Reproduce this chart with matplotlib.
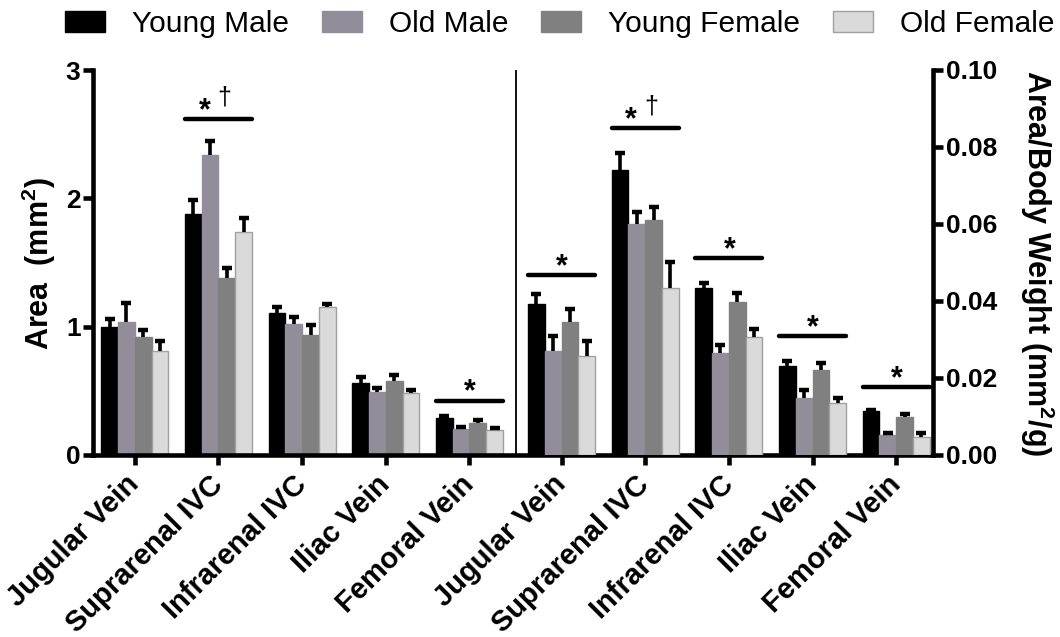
import numpy as np
import matplotlib
matplotlib.use("Agg")
import matplotlib.pyplot as plt

plt.rcParams['font.family'] = ['Liberation Sans', 'DejaVu Sans']
plt.rcParams['mathtext.fontset'] = 'custom'
plt.rcParams['mathtext.rm'] = 'Liberation Sans'
plt.rcParams['mathtext.bf'] = 'Liberation Sans:bold'

# ---------------- data ----------------
categories = ["Jugular Vein", "Suprarenal IVC", "Infrarenal IVC", "Iliac Vein", "Femoral Vein"]
series = ["Young Male", "Old Male", "Young Female", "Old Female"]

# Area (mm^2) -- left axis
area_ym = [1.00, 1.88, 1.11, 0.56, 0.29]
area_om = [1.04, 2.34, 1.02, 0.49, 0.20]
area_yf = [0.92, 1.38, 0.935, 0.58, 0.25]
area_of = [0.81, 1.74, 1.15, 0.48, 0.195]
area_ym_err = [0.06, 0.11, 0.04, 0.045, 0.012]
area_om_err = [0.145, 0.105, 0.055, 0.03, 0.015]
area_yf_err = [0.055, 0.08, 0.08, 0.045, 0.02]
area_of_err = [0.075, 0.105, 0.03, 0.03, 0.012]

# Area / body weight (mm^2/g) -- right axis
abw_ym = [0.0391, 0.0740, 0.0434, 0.0231, 0.0113]
abw_om = [0.0271, 0.0599, 0.0266, 0.0149, 0.0052]
abw_yf = [0.0346, 0.0610, 0.0397, 0.0221, 0.0100]
abw_of = [0.0257, 0.0435, 0.0307, 0.0136, 0.0048]
abw_ym_err = [0.0027, 0.0045, 0.0014, 0.0013, 0.0004]
abw_om_err = [0.0037, 0.0032, 0.0021, 0.0019, 0.0004]
abw_yf_err = [0.0033, 0.0034, 0.0024, 0.0019, 0.0006]
abw_of_err = [0.0038, 0.0066, 0.0021, 0.0013, 0.0008]

# significance bars: (group index, height, label)
area_sig = [(1, 2.616, "*\u2020"), (4, 0.423, "*")]
abw_sig = [(0, 0.0468, "*"), (1, 0.0849, "*\u2020"), (2, 0.0512, "*"),
           (3, 0.0309, "*"), (4, 0.0177, "*")]

colors = ["#000000", "#918e9a", "#808080", "#dadada"]
edges = ["#000000", "#918e9a", "#808080", "#a0a0a0"]

# ---------------- figure ----------------
fig = plt.figure(figsize=(10.6, 6.37), dpi=100)
ax = fig.add_axes([93 / 1060, 1 - 455 / 637, 840 / 1060, 385 / 637])
ax2 = ax.twinx()

left_pos = np.arange(5) + 0.5
right_pos = np.arange(5) + 5.6
bw = 0.2
offs = (np.arange(4) - 1.5) * bw


def draw(axis, pos, vals_list, errs_list):
    for k, (vals, errs) in enumerate(zip(vals_list, errs_list)):
        x = pos + offs[k]
        vals = np.asarray(vals)
        errs = np.asarray(errs)
        axis.bar(x, vals, width=bw, color=colors[k], edgecolor=edges[k],
                 linewidth=1.0, label=series[k], zorder=2)
        axis.errorbar(x, vals, yerr=[np.zeros_like(errs), errs], fmt='none',
                      ecolor='black', elinewidth=2.6, capsize=0, zorder=3)
        axis.plot(x, vals + errs, ls='none', marker='_', markersize=7.5,
                  mew=3.2, color='black', zorder=3)


draw(ax, left_pos, [area_ym, area_om, area_yf, area_of],
     [area_ym_err, area_om_err, area_yf_err, area_of_err])
draw(ax2, right_pos, [abw_ym, abw_om, abw_yf, abw_of],
     [abw_ym_err, abw_om_err, abw_yf_err, abw_of_err])


def sig(axis, pos, items):
    for gi, h, lab in items:
        c = pos[gi]
        axis.plot([c - 0.4, c + 0.4], [h, h], color='black', lw=3.2,
                  solid_capstyle='round', zorder=4)
        if lab == "*":
            axis.annotate("*", (c, h), xytext=(0.5, 0), textcoords='offset points',
                          ha='center', va='baseline', fontsize=22, fontweight='bold')
        else:
            axis.annotate("*", (c, h), xytext=(-10, 0), textcoords='offset points',
                          ha='center', va='baseline', fontsize=22, fontweight='bold')
            axis.annotate("\u2020", (c, h), xytext=(4.5, 10.5), textcoords='offset points',
                          ha='center', va='baseline', fontsize=18, fontweight='normal')


sig(ax, left_pos, area_sig)
sig(ax2, right_pos, abw_sig)

ax.axvline(5.05, color='black', lw=1.3, zorder=1)

ax.set_xlim(0, 10.04)
ax.set_ylim(0, 3)
ax2.set_ylim(0, 0.10)
ax.set_yticks([0, 1, 2, 3])
ax2.set_yticks([0, 0.02, 0.04, 0.06, 0.08, 0.10])
ax2.set_yticklabels(["0.00", "0.02", "0.04", "0.06", "0.08", "0.10"])

ax.set_xticks(np.concatenate([left_pos, right_pos]))
ax.set_xticklabels(categories + categories, rotation=45, ha='right', va='center',
                   rotation_mode='anchor', fontsize=21, fontweight='bold')

for a in (ax, ax2):
    a.spines['top'].set_visible(False)
    for s in a.spines.values():
        s.set_linewidth(3.3)
ax.spines['right'].set_visible(False)
ax2.spines['left'].set_visible(False)
ax2.spines['bottom'].set_visible(False)

ax.tick_params(axis='y', direction='out', length=7, width=3.3, labelsize=19, pad=2)
ax2.tick_params(axis='y', direction='out', length=7, width=3.3, labelsize=19, pad=2)
ax.tick_params(axis='x', direction='out', length=7, width=3.3, pad=11)
for lab in ax.get_yticklabels() + ax2.get_yticklabels():
    lab.set_fontweight('bold')

ax.set_ylabel(r"Area  (mm$^{\mathbf{2}}$)", fontsize=22, fontweight='bold')
ax.yaxis.set_label_coords(-0.064, 0.496)
ax.yaxis.label.set_va('center')
ax2.set_ylabel(r"Area/Body Weight (mm$^{\mathbf{2}}$/g)", fontsize=22,
               fontweight='bold', rotation=270)
ax2.yaxis.set_label_coords(1.124, 0.499)
ax2.yaxis.label.set_va('center')

handles, labels = ax.get_legend_handles_labels()
fig.legend(handles, labels, loc='center', bbox_to_anchor=(0.528, 0.962), ncol=4,
           frameon=False, prop={'size': 21.5, 'weight': 'normal'},
           handlelength=1.35, handleheight=0.7, handletextpad=0.9,
           columnspacing=1.1, borderaxespad=0)

fig.savefig("out.png", dpi=100)
